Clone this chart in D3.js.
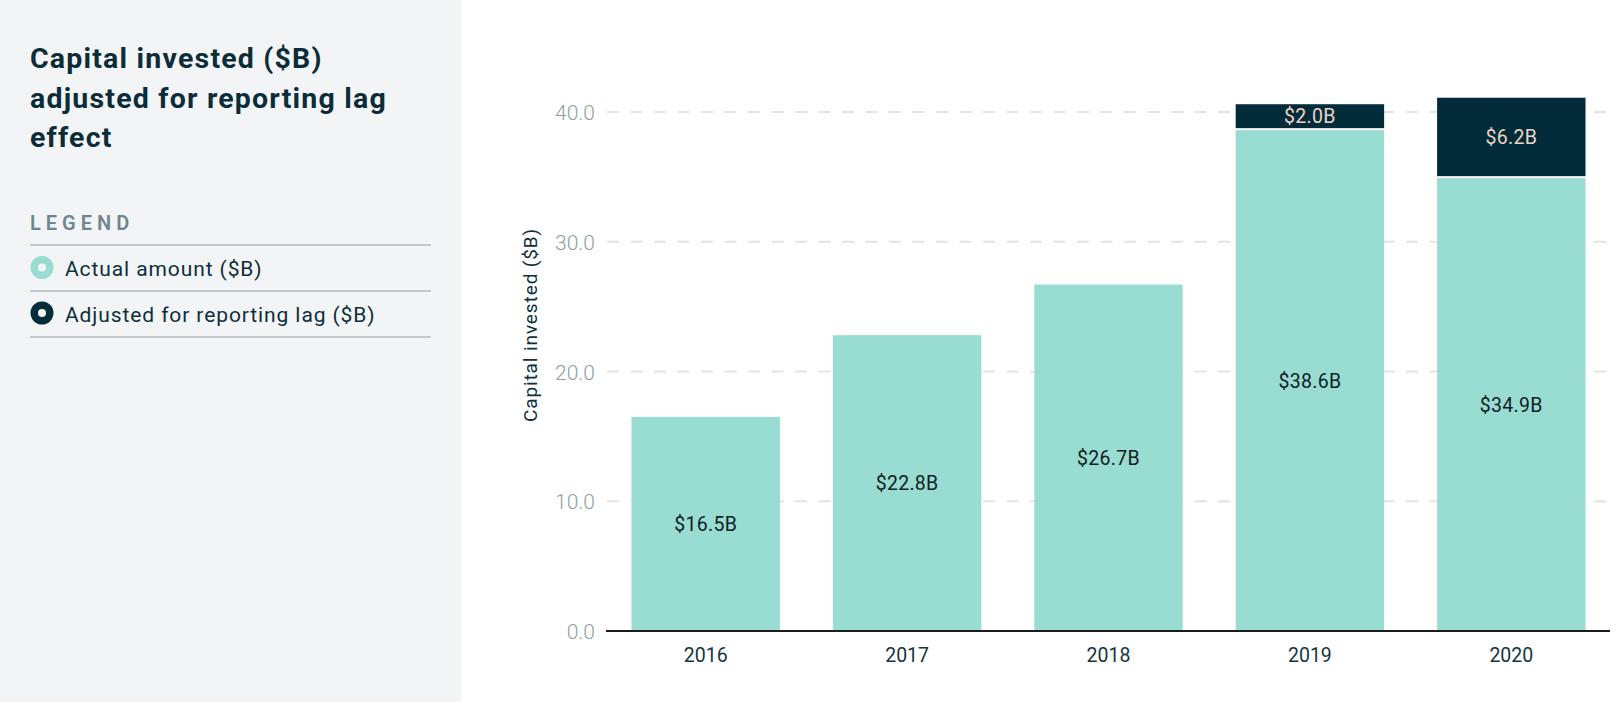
<!DOCTYPE html>
<html>
<head>
<meta charset="utf-8">
<script src="https://cdn.jsdelivr.net/npm/d3@7"></script>
<style>
  html, body { margin: 0; padding: 0; background: #ffffff; }
  svg { display: block; }
  text { font-family: Roboto, "Noto Sans", sans-serif; }
</style>
</head>
<body>
<svg id="chart" width="1624" height="702"></svg>
<script>
// ---- data ----
const years = ["2016", "2017", "2018", "2019", "2020"];
const actual = [16.5, 22.8, 26.7, 38.6, 34.9];
const adjusted = [0, 0, 0, 2.0, 6.2];
const yTicks = [0, 10, 20, 30, 40];
const titleLines = ["Capital invested ($B)", "adjusted for reporting lag", "effect"];
const legendLabels = ["Actual amount ($B)", "Adjusted for reporting lag ($B)"];
const yAxisTitle = "Capital invested ($B)";

const TEAL = "#99dcd2";
const NAVY = "#032c3a";

const svg = d3.select("#chart");

// left panel
svg.append("rect").attr("x", 0).attr("y", 0).attr("width", 461).attr("height", 702).attr("fill", "#f3f4f6");

const title = svg.append("text").attr("x", 30).attr("y", 67)
  .attr("font-size", 28.5).attr("font-weight", 700).attr("letter-spacing", 1.2).attr("fill", "#0b2d39");
titleLines.forEach((t, i) => {
  title.append("tspan").attr("x", 30).attr("y", 68 + i * 39.5).text(t);
});

svg.append("text").attr("x", 30).attr("y", 230).attr("font-size", 20).attr("font-weight", 600)
  .attr("letter-spacing", 5.0).attr("fill", "#6f868d").text("LEGEND");

const lineYs = [245, 291, 337];
lineYs.forEach(y => {
  svg.append("line").attr("x1", 30).attr("x2", 431).attr("y1", y).attr("y2", y)
    .attr("stroke", "#c6c8ca").attr("stroke-width", 2);
});

const legColors = [TEAL, NAVY];
legendLabels.forEach((lab, i) => {
  const cy = 267.5 + i * 45.5;
  svg.append("circle").attr("cx", 42).attr("cy", cy).attr("r", 11.5).attr("fill", legColors[i]);
  svg.append("circle").attr("cx", 42).attr("cy", cy).attr("r", 4).attr("fill", "#f3f4f6");
  svg.append("text").attr("x", 65).attr("y", cy + 8.5).attr("font-size", 21)
    .attr("letter-spacing", 0.9).attr("fill", "#0e2f3b").text(lab);
});

// chart
const x = d3.scaleBand().domain(years).range([605, 1612]).paddingInner(0.263).paddingOuter(0.1315);
const y = d3.scaleLinear().domain([0, 40]).range([631, 112]);

// grid
const grid = svg.append("g");
yTicks.filter(d => d > 0).forEach(t => {
  grid.append("line").attr("x1", 607).attr("x2", 1610).attr("y1", y(t)).attr("y2", y(t))
    .attr("stroke", "#e2e3e4").attr("stroke-width", 2).attr("stroke-dasharray", "12,11.5");
});

// y tick labels via axis
const yAxis = d3.axisLeft(y).tickValues(yTicks).tickFormat(d3.format(".1f")).tickSize(0).tickPadding(0);
const yg = svg.append("g").attr("transform", "translate(595,0)").call(yAxis);
yg.select(".domain").remove();
yg.selectAll("text").attr("font-size", 21).attr("fill", "#8d9ea4")
  .attr("font-family", "Roboto, sans-serif").attr("font-weight", 300).attr("dy", "0.36em");

// bars
const bars = svg.append("g");
years.forEach((yr, i) => {
  bars.append("rect").attr("x", x(yr)).attr("width", x.bandwidth())
    .attr("y", y(actual[i])).attr("height", y(0) - y(actual[i])).attr("fill", TEAL);
  bars.append("text").attr("x", x(yr) + x.bandwidth() / 2).attr("y", (y(actual[i]) + y(0)) / 2)
    .attr("dy", "0.36em").attr("text-anchor", "middle").attr("font-size", 19.5).attr("letter-spacing", 0.3)
    .attr("fill", "#0f1f24").text("$" + actual[i].toFixed(1) + "B");
  if (adjusted[i] > 0) {
    const top = y(actual[i] + adjusted[i]);
    const bottom = y(actual[i]) - 2;
    bars.append("rect").attr("x", x(yr)).attr("width", x.bandwidth())
      .attr("y", top).attr("height", bottom - top).attr("fill", NAVY);
    bars.append("text").attr("x", x(yr) + x.bandwidth() / 2).attr("y", (top + bottom) / 2)
      .attr("dy", "0.36em").attr("text-anchor", "middle").attr("font-size", 19.5).attr("letter-spacing", 0.3)
      .attr("fill", "#f0d3c3").text("$" + adjusted[i].toFixed(1) + "B");
  }
});

// x axis
const xAxis = d3.axisBottom(x).tickSize(0).tickPadding(0);
const xg = svg.append("g").attr("transform", "translate(0,631)").call(xAxis);
xg.select(".domain").remove();
svg.append("line").attr("x1", 606).attr("x2", 1610).attr("y1", 631).attr("y2", 631)
  .attr("stroke", "#1b1b1b").attr("stroke-width", 2);
xg.selectAll("text").attr("font-size", 19.5).attr("fill", "#163440")
  .attr("font-family", "Roboto, sans-serif").attr("dy", "0").attr("y", 31);

// y axis title
svg.append("text").attr("transform", "translate(537,325) rotate(-90)")
  .attr("text-anchor", "middle").attr("font-size", 19).attr("letter-spacing", 0.9)
  .attr("fill", "#0e2f3b").text(yAxisTitle);
</script>
</body>
</html>
